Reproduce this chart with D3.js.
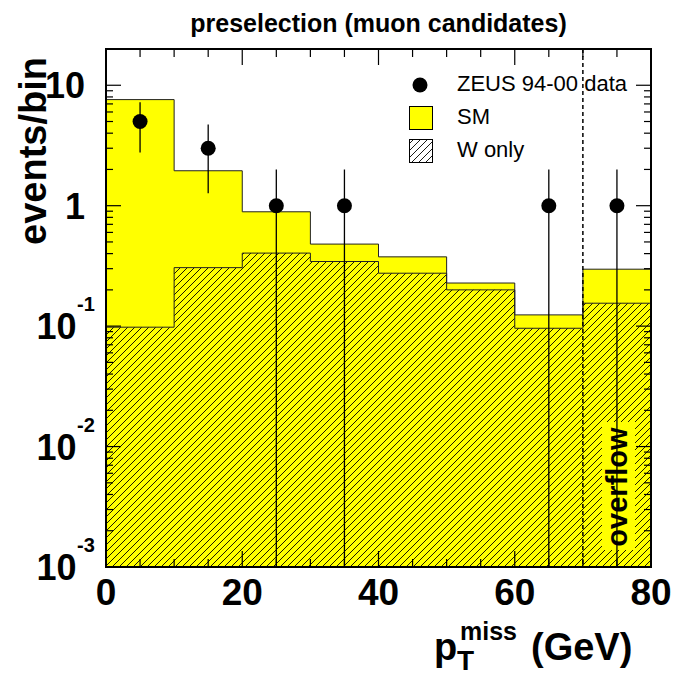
<!DOCTYPE html>
<html><head><meta charset="utf-8">
<script src="https://cdn.jsdelivr.net/npm/d3@7"></script>
<style>
html,body{margin:0;padding:0;background:#fff;}
text{font-family:"Liberation Sans",Arial,Helvetica,sans-serif;}
</style></head>
<body><svg id="c" width="679" height="678"></svg>
<script>
// ---- data ----
const binEdges = [0,10,20,30,40,50,60,70,80];
const smValues = [7.6,1.95,0.89,0.48,0.376,0.228,0.124,0.297];
const wValues  = [0.098,0.306,0.404,0.344,0.275,0.2,0.096,0.155];
const dataX    = [5,15,25,35,65,75];
const dataY    = [5,3,1,1,1,1];
const dataErr  = [2.24,1.73,1,1,1,1];
const xTicks   = [0,20,40,60,80];
const yMajor   = [1e-3,1e-2,1e-1,1,10];
const yLabels  = [["10","-3"],["10","-2"],["10","-1"],["1",""],["10",""]];
const overflowEdge = 70;

const svg = d3.select("#c");
const L=106,R=651,T=49,B=567;
const x = d3.scaleLinear().domain([0,80]).range([L,R]);
const y = d3.scaleLog().domain([1e-3,20]).range([B,T]);
const YEL="#ffff00";

const defs = svg.append("defs");
const pat = defs.append("pattern").attr("id","hatch").attr("patternUnits","userSpaceOnUse")
  .attr("width",7).attr("height",7);
pat.append("path").attr("d","M-1,8 L8,-1 M-1,1 L1,-1 M6,8 L8,6").attr("stroke","#000").attr("stroke-width",0.9);
defs.append("clipPath").attr("id","clip").append("rect").attr("x",L).attr("y",T).attr("width",R-L).attr("height",B-T);

const g = svg.append("g").attr("clip-path","url(#clip)");

function stepPts(vals){
  const pts = vals.map((v,i)=>[binEdges[i],v]);
  pts.push([binEdges[binEdges.length-1], vals[vals.length-1]]);
  return pts;
}
const area = d3.area().curve(d3.curveStepAfter).x(d=>x(d[0])).y0(B).y1(d=>y(d[1]));
const line = d3.line().curve(d3.curveStepAfter).x(d=>x(d[0])).y(d=>y(d[1]));

// SM
g.append("path").attr("d",area(stepPts(smValues))).attr("fill",YEL);
g.append("path").attr("d",line(stepPts(smValues))).attr("fill","none").attr("stroke","#222").attr("stroke-width",1);
// W
g.append("path").attr("d",area(stepPts(wValues))).attr("fill","url(#hatch)");
g.append("path").attr("d",line(stepPts(wValues))).attr("fill","none").attr("stroke","#222").attr("stroke-width",1);

// overflow label
const ovCy = 487;
g.append("rect").attr("x",602).attr("y",422).attr("width",33).attr("height",128).attr("fill",YEL);
svg.append("text").attr("transform",`translate(626.5,${ovCy}) rotate(-90)`).attr("text-anchor","middle")
  .attr("font-weight","bold").attr("font-size",29).text("overflow");

// data error bars and points
dataX.forEach((cx,i)=>{
  const lo = dataY[i]-dataErr[i];
  g.append("line").attr("x1",x(cx)).attr("x2",x(cx))
    .attr("y1",y(dataY[i]+dataErr[i])).attr("y2", lo>0? y(lo) : B+5)
    .attr("stroke","#000").attr("stroke-width",1.3);
});
g.selectAll("circle.d").data(dataX).join("circle").attr("class","d")
  .attr("cx",d=>x(d)).attr("cy",(d,i)=>y(dataY[i])).attr("r",7.5).attr("fill","#000");

// legend
const lg = svg.append("g");
lg.append("circle").attr("cx",420).attr("cy",85).attr("r",7.5).attr("fill","#000");
lg.append("text").attr("x",457).attr("y",91).attr("font-size",22).text("ZEUS 94-00 data");
lg.append("rect").attr("x",409.5).attr("y",106.5).attr("width",23).attr("height",23).attr("fill",YEL).attr("stroke","#000").attr("stroke-width",1);
lg.append("text").attr("x",457).attr("y",124).attr("font-size",22).text("SM");
lg.append("rect").attr("x",409.5).attr("y",139.5).attr("width",23).attr("height",23).attr("fill","url(#hatch)").attr("stroke","#000").attr("stroke-width",1);
lg.append("text").attr("x",457).attr("y",157).attr("font-size",22).text("W only");

// dashed overflow separator
svg.append("line").attr("x1",x(overflowEdge)).attr("x2",x(overflowEdge)).attr("y1",T).attr("y2",B)
  .attr("stroke","#000").attr("stroke-width",1.5).attr("stroke-dasharray","4,3");

// axes ticks (inside)
const ax = svg.append("g").attr("stroke","#000").attr("stroke-width",1.2);
d3.range(0,81,5).forEach(v=>{
  const len = v%20===0?16:8;
  ax.append("line").attr("x1",x(v)).attr("x2",x(v)).attr("y1",B).attr("y2",B-len);
  ax.append("line").attr("x1",x(v)).attr("x2",x(v)).attr("y1",T).attr("y2",T+len);
});
const yMinor=[];
[1e-3,1e-2,1e-1,1,10].forEach(d=>{for(let k=2;k<=9;k++){const v=d*k; if(v<=20) yMinor.push(v);}});
yMajor.forEach(v=>{
  ax.append("line").attr("x1",L).attr("x2",L+15).attr("y1",y(v)).attr("y2",y(v));
  ax.append("line").attr("x1",R).attr("x2",R-15).attr("y1",y(v)).attr("y2",y(v));
});
yMinor.forEach(v=>{
  ax.append("line").attr("x1",L).attr("x2",L+7).attr("y1",y(v)).attr("y2",y(v));
  ax.append("line").attr("x1",R).attr("x2",R-7).attr("y1",y(v)).attr("y2",y(v));
});
svg.append("rect").attr("x",L).attr("y",T).attr("width",R-L).attr("height",B-T)
  .attr("fill","none").attr("stroke","#000").attr("stroke-width",2);

// tick labels
xTicks.forEach(v=>{
  svg.append("text").attr("x",x(v)).attr("y",605).attr("text-anchor","middle")
    .attr("font-weight","bold").attr("font-size",37).text(v);
});
yMajor.forEach((v,i)=>{
  const [base,exp]=yLabels[i];
  const yy = y(v)+13;
  if(exp){
    svg.append("text").attr("x",76.5).attr("y",yy).attr("text-anchor","end")
      .attr("font-weight","bold").attr("font-size",36).text(base);
    svg.append("text").attr("x",77).attr("y",yy-28).attr("text-anchor","start")
      .attr("font-weight","bold").attr("font-size",20).text(exp);
  } else {
    svg.append("text").attr("x",85).attr("y",yy).attr("text-anchor","end")
      .attr("font-weight","bold").attr("font-size",36).text(base);
  }
});

// titles
svg.append("text").attr("x",378.5).attr("y",32).attr("text-anchor","middle")
  .attr("font-weight","bold").attr("font-size",25).text("preselection (muon candidates)");
svg.append("text").attr("transform","translate(46,57) rotate(-90)").attr("text-anchor","end")
  .attr("font-weight","bold").attr("font-size",38).text("events/bin");
svg.append("text").attr("x",434).attr("y",660).attr("font-weight","bold").attr("font-size",38).text("p");
svg.append("text").attr("x",457).attr("y",670).attr("font-weight","bold").attr("font-size",28).text("T");
svg.append("text").attr("x",460).attr("y",640).attr("font-weight","bold").attr("font-size",25).text("miss");
svg.append("text").attr("x",531).attr("y",660).attr("font-weight","bold").attr("font-size",38).text("(GeV)");
</script></body></html>
